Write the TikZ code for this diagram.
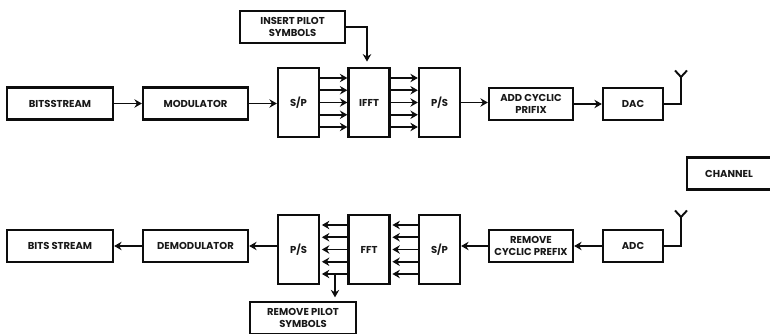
\documentclass[tikz,border=0pt]{standalone}
\usepackage{fontspec}
\setsansfont{Poppins}
\usepackage{tikz}
\usetikzlibrary{arrows.meta}

\begin{document}
\begin{tikzpicture}[
  x=.02cm,
  y=-.02cm,
  every node/.style={
    font=\sffamily\bfseries\fontsize{5.7}{7.3}\selectfont,
    align=center,
    text=black!90
  },
  blockbox/.style={
    draw=black!95,
    fill=white,
    line width=1.3pt,
    inner sep=0pt,
    minimum width=#1*.02cm,
    minimum height=.64cm
  },
  tallbox/.style={
    draw=black!95,
    fill=white,
    line width=1.3pt,
    inner sep=0pt,
    minimum width=.82cm,
    minimum height=1.38cm
  },
  sigarrow/.style={
    -{Stealth[length=1.5mm,width=1.7mm,inset=.5mm]},
    black!95,
    line width=1.1pt
  },
  aerial/.style={
    black!95,
    line width=1.1pt
  }
]

\useasboundingbox (0,0) rectangle (770,334);

% transmitter
\node[blockbox=106] (bits) at (60,103.5) {BITSSTREAM};
\node[blockbox=105] (mod) at (195.5,103.5) {MODULATOR};
\node[tallbox] (sp) at (298.5,102.5) {S/P};
\node[tallbox] (ifft) at (369,102.5) {IFFT};
\node[tallbox] (ps) at (439.5,102.5) {P/S};
\node[blockbox=105] (pilot) at (292.5,27) {INSERT PILOT\\SYMBOLS};
\node[blockbox=84] (cp) at (531,104) {ADD CYCLIC\\PRIFIX};
\node[blockbox=60] (dac) at (633,104) {DAC};

% channel
\node[blockbox=84] (chan) at (729,173.5) {CHANNEL};

% receiver
\node[blockbox=84] (rcp) at (531,246) {REMOVE\\CYCLIC PREFIX};
\node[blockbox=60] (adc) at (633,246) {ADC};
\node[tallbox] (sp2) at (439.5,249.5) {S/P};
\node[tallbox] (fft) at (369,249.5) {FFT};
\node[tallbox] (ps2) at (298.5,249.5) {P/S};
\node[blockbox=105] (demod) at (195.5,246) {DEMODULATOR};
\node[blockbox=106] (bits2) at (60,246) {BITS STREAM};
\node[blockbox=106] (rpilot) at (303,318) {REMOVE PILOT\\SYMBOLS};

\draw[sigarrow] (bits) -- (mod);
\draw[sigarrow] (mod.east) -- (mod.east -| sp.west);
\draw[sigarrow] (cp) -- (dac);
\draw[sigarrow] (ps.east) -- (ps.east -| cp.west);
\draw[sigarrow,shorten >=3pt] (pilot.east) -| ([xshift=-.04cm]ifft.north);

\foreach \dy in {-.49,-.245,0,.245,.49}{
  \draw[sigarrow] ([yshift=\dy cm]sp.east) -- ([yshift=\dy cm]ifft.west);
  \draw[sigarrow] ([yshift=\dy cm]ifft.east) -- ([yshift=\dy cm]ps.west);
  \draw[sigarrow,shorten >=1pt] ([yshift=\dy cm]sp2.west) -- ([yshift=\dy cm]fft.east);
  \draw[sigarrow,shorten >=1pt] ([yshift=\dy cm]fft.west) -- ([yshift=\dy cm]ps2.east);
}

\draw[sigarrow] (adc) -- (rcp);
\draw[sigarrow] (rcp.west) -- (rcp.west -| sp2.east);
\draw[sigarrow] (ps2.west |- demod.east) -- (demod);
\draw[sigarrow] (demod) -- (bits2);

\coordinate (tap) at (335,274);
\draw[sigarrow,shorten >=2pt] (tap) -- (tap |- rpilot.north);

% antennas
\coordinate (txfoot) at (681,77);
\coordinate (rxfoot) at (681,217);
\foreach \nd/\ft in {dac/txfoot,adc/rxfoot}{
  \draw[aerial] (\nd.east) -| (\ft);
  \draw[aerial] ([shift={(-.12cm,.13cm)}]\ft) -- (\ft) -- ([shift={(.12cm,.13cm)}]\ft);
}

\end{tikzpicture}
\end{document}
